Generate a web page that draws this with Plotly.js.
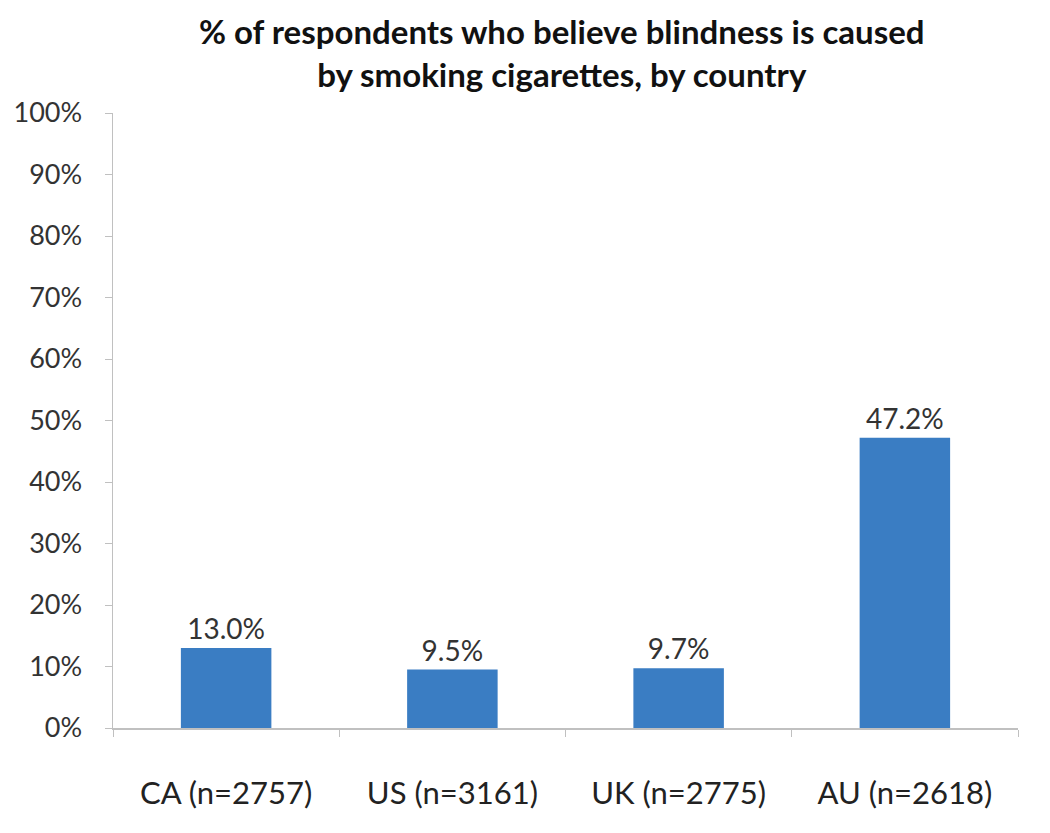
<!DOCTYPE html>
<html>
<head>
<meta charset="utf-8">
<script src="https://cdn.plot.ly/plotly-3.0.1.min.js"></script>
<style>html,body{margin:0;padding:0;background:#fff;}#chart{width:1050px;height:833px;}</style>
</head>
<body>
<div id="chart"></div>
<script>
const categories = ["CA (n=2757)", "US (n=3161)", "UK (n=2775)", "AU (n=2618)"];
const values = [0.130, 0.095, 0.097, 0.472];
const valueLabels = ["13.0%", "9.5%", "9.7%", "47.2%"];
const yTickVals = [0, 0.1, 0.2, 0.3, 0.4, 0.5, 0.6, 0.7, 0.8, 0.9, 1.0];
const yTickText = ["0%", "10%", "20%", "30%", "40%", "50%", "60%", "70%", "80%", "90%", "100%"];

const trace = {
  type: "bar",
  x: categories,
  y: values,
  text: valueLabels,
  textposition: "outside",
  cliponaxis: false,
  textfont: {family: "Lato, 'Open Sans', sans-serif", size: 28, color: "#333333"},
  marker: {color: "#3A7DC3", line: {width: 0}},
  hoverinfo: "none"
};

const layout = {
  width: 1050,
  height: 833,
  margin: {l: 113, r: 32, t: 113, b: 105},
  paper_bgcolor: "#ffffff",
  plot_bgcolor: "#ffffff",
  showlegend: false,
  bargap: 0.6,
  title: {
    text: "<b>% of respondents who believe blindness is caused<br>by smoking cigarettes, by country</b>",
    font: {family: "Lato, 'Open Sans', sans-serif", size: 33, color: "#111111", lineposition: "none"},
    x: 0.535, xanchor: "center",
    yref: "container", y: 1, yanchor: "top",
    pad: {t: 44}
  },
  xaxis: {
    type: "category",
    showline: true,
    linecolor: "#c0c0c0",
    linewidth: 1.5,
    ticks: "outside",
    tickson: "boundaries",
    ticklen: 7,
    tickcolor: "#c0c0c0",
    showgrid: false,
    ticklabelstandoff: 37,
    tickfont: {family: "Lato, 'Open Sans', sans-serif", size: 31, color: "#222222"}
  },
  yaxis: {
    range: [0, 1],
    tickvals: yTickVals,
    ticktext: yTickText,
    showline: true,
    linecolor: "#c0c0c0",
    linewidth: 1.5,
    ticks: "outside",
    ticklen: 7,
    tickcolor: "#c0c0c0",
    showgrid: false,
    zeroline: false,
    ticklabelstandoff: 17,
    tickfont: {family: "Lato, 'Open Sans', sans-serif", size: 27, color: "#333333"}
  }
};

Plotly.newPlot("chart", [trace], layout, {displayModeBar: false, staticPlot: true});
</script>
</body>
</html>
